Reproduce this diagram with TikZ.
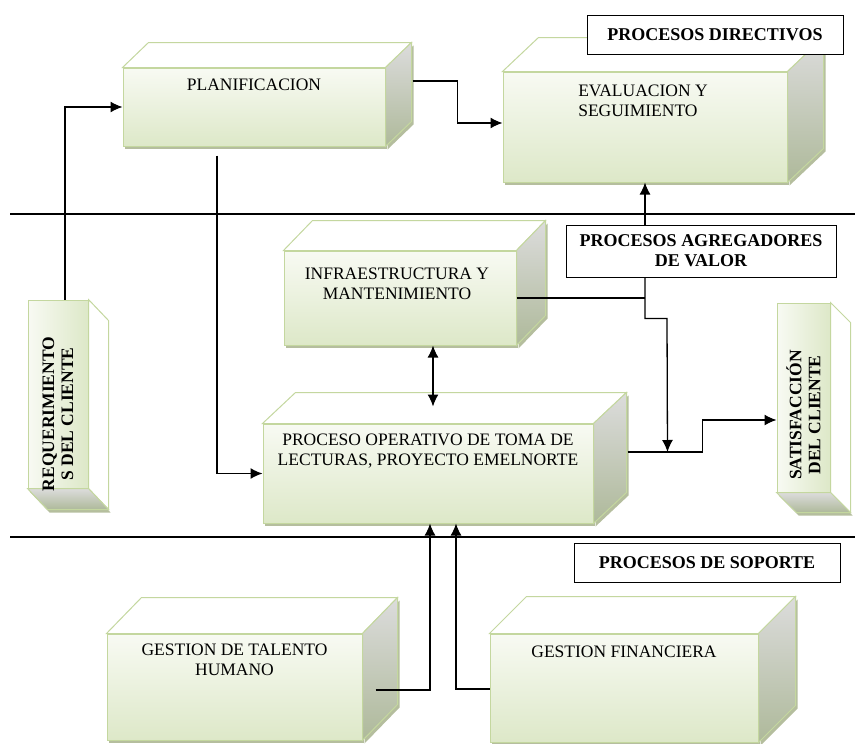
\documentclass[tikz,border=0pt]{standalone}
\usepackage{fontspec}
\setmainfont{Liberation Serif}
\usetikzlibrary{positioning,calc,arrows.meta,shadows}

\definecolor{borde}{HTML}{C4D79F}
\definecolor{frente1}{HTML}{F8FAF3}
\definecolor{frente2}{HTML}{DDE8C8}
\definecolor{lado1}{HTML}{DCDCDC}
\definecolor{lado2}{HTML}{AEB99A}
\definecolor{sombra}{HTML}{B5BE9E}

\tikzset{
  frente/.style={draw=borde, line width=1pt, top color=frente1, bottom color=frente2, inner sep=0pt,
    drop shadow={shadow xshift=2pt, shadow yshift=-3pt, fill=sombra, opacity=1}},
  frentev/.style={draw=borde, line width=1pt, left color=frente1, right color=frente2, inner sep=0pt},
  tapa/.style={draw=borde, line width=1pt, fill=white},
  lado/.style={draw=borde, line width=1pt, top color=lado1, bottom color=lado2,
    drop shadow={shadow xshift=2pt, shadow yshift=-3pt, fill=sombra, opacity=1}},
  texto/.style={font=\fontsize{17.5}{20}\selectfont, align=center, inner sep=0pt},
  textov/.style={font=\fontsize{17.5}{19}\selectfont\bfseries, align=center, inner sep=0pt, rotate=90},
  etiqueta/.style={draw=black, line width=0.8pt, fill=white, font=\fontsize{18}{20}\selectfont\bfseries, align=center, inner sep=0pt},
  flecha/.style={line width=1.3pt, -{Latex[length=12pt,width=11pt]}},
  doble/.style={line width=1.3pt, {Latex[length=12pt,width=11pt]}-{Latex[length=12pt,width=11pt]}},
  separador/.style={line width=2.8pt},
}

% caras de una caja (fondo hacia arriba a la derecha)
\newcommand{\caras}[3]{%
  \path[tapa] (#1.north west) -- ++(#2,-#3) -- ($(#1.north east)+(#2,-#3)$) -- (#1.north east) -- cycle;
  \path[lado] (#1.north east) -- ++(#2,-#3) -- ($(#1.south east)+(#2,-#3)$) -- (#1.south east) -- cycle;
}
% caras de una caja girada (fondo hacia abajo a la derecha)
\newcommand{\carasv}[3]{%
  \path[tapa] (#1.north east) -- ++(#2,#3) -- ($(#1.south east)+(#2,#3)$) -- (#1.south east) -- cycle;
  \path[lado] (#1.south west) -- ++(#2,#3) -- ($(#1.south east)+(#2,#3)$) -- (#1.south east) -- cycle;
}

\begin{document}
\begin{tikzpicture}[x=1pt,y=-1pt]
\useasboundingbox (0,0) rectangle (855,744);

\draw[separador] (10,214) -- (855,214);
\draw[separador] (10,537) -- (855,537);

% procesos directivos
\node[frente, minimum width=262pt, minimum height=78pt] (planif) at (254,107) {};
\caras{planif}{26}{25}
\node[texto] (tplanif) at ($(planif.north)+(0,17)$) {PLANIFICACION};

\node[frente, minimum width=284pt, minimum height=110pt] (eval) at (645,127) {};
\caras{eval}{36}{34}
\node[texto, align=left] (teval) at ($(eval.north)+(-2,29)$) {EVALUACION Y\\SEGUIMIENTO};

\node[etiqueta, minimum width=256pt, minimum height=39pt] (directivos) at (715,34.5) {PROCESOS DIRECTIVOS};

% procesos agregadores de valor
\node[frentev, minimum width=60pt, minimum height=188pt] (req) at (58,394) {};
\carasv{req}{20}{21}
\node[textov] (treq) at (58,414) {REQUERIMIENTO\\S DEL CLIENTE};

\node[frente, minimum width=232pt, minimum height=94pt] (infra) at (400,298) {};
\caras{infra}{29}{30}
\node[texto] (tinfra) at ($(infra.north)+(-3,33)$) {INFRAESTRUCTURA Y\\MANTENIMIENTO};

\node[frente, minimum width=330pt, minimum height=99pt] (proceso) at (428,473.5) {};
\caras{proceso}{33}{31}
\node[texto] (tproceso) at ($(proceso.north)+(0,28)$) {PROCESO OPERATIVO DE TOMA DE\\LECTURAS, PROYECTO EMELNORTE};

\node[frentev, minimum width=53pt, minimum height=189pt] (sat) at (803.5,397.5) {};
\carasv{sat}{20}{20}
\node[textov] (tsat) at (803.5,415) {SATISFACCIÓN\\DEL CLIENTE};

\node[etiqueta, minimum width=270pt, minimum height=52pt] (agregadores) at (701,251) {PROCESOS AGREGADORES\\DE VALOR};

% procesos de soporte
\node[etiqueta, minimum width=266pt, minimum height=39pt] (soporte) at (707,562.5) {PROCESOS DE SOPORTE};

\node[frente, minimum width=255pt, minimum height=106pt] (talento) at (234.5,687) {};
\caras{talento}{35}{36}
\node[texto] (ttalento) at ($(talento.north)+(0,26)$) {GESTION DE TALENTO\\HUMANO};

\node[frente, minimum width=268pt, minimum height=108pt] (financiera) at (624,688) {};
\caras{financiera}{37}{37}
\node[texto] (tfinanciera) at ($(financiera.north)+(0,18)$) {GESTION FINANCIERA};

% conectores
\coordinate (psal) at ([xshift=34pt,yshift=21.5pt]proceso.east);
\coordinate (cruce) at ($(psal)+(40,0)$);

\draw[flecha] ([xshift=7pt]req.north) |- (planif.west);
\draw[flecha] ([xshift=27pt,yshift=26pt]planif.east) -- ++(45,0) |- ([yshift=4pt]eval.west);
\draw[flecha] ([xshift=-37pt,yshift=-9pt]planif.south) |- (proceso.west);
\draw[flecha] (agregadores.north -| eval.south) -- (eval.south);
\draw[line width=1.3pt] (infra.east) -- (infra.east -| eval.south);
\draw[flecha] (agregadores.south -| eval.south) -- ++(0,41) -- ++(22,0) -- (cruce);
\draw[flecha] (psal) -- ++(75,0) |- ([yshift=-22.5pt]sat.west);
\draw[doble] ([xshift=33pt]infra.south) -- ([xshift=5pt,yshift=17pt]proceso.north);
\draw[flecha] ([xshift=13pt,yshift=-3pt]talento.east) -| ([xshift=2pt]proceso.south);
\draw[flecha] ([yshift=-1pt]financiera.west) -| ([xshift=28pt]proceso.south);
\end{tikzpicture}
\end{document}
